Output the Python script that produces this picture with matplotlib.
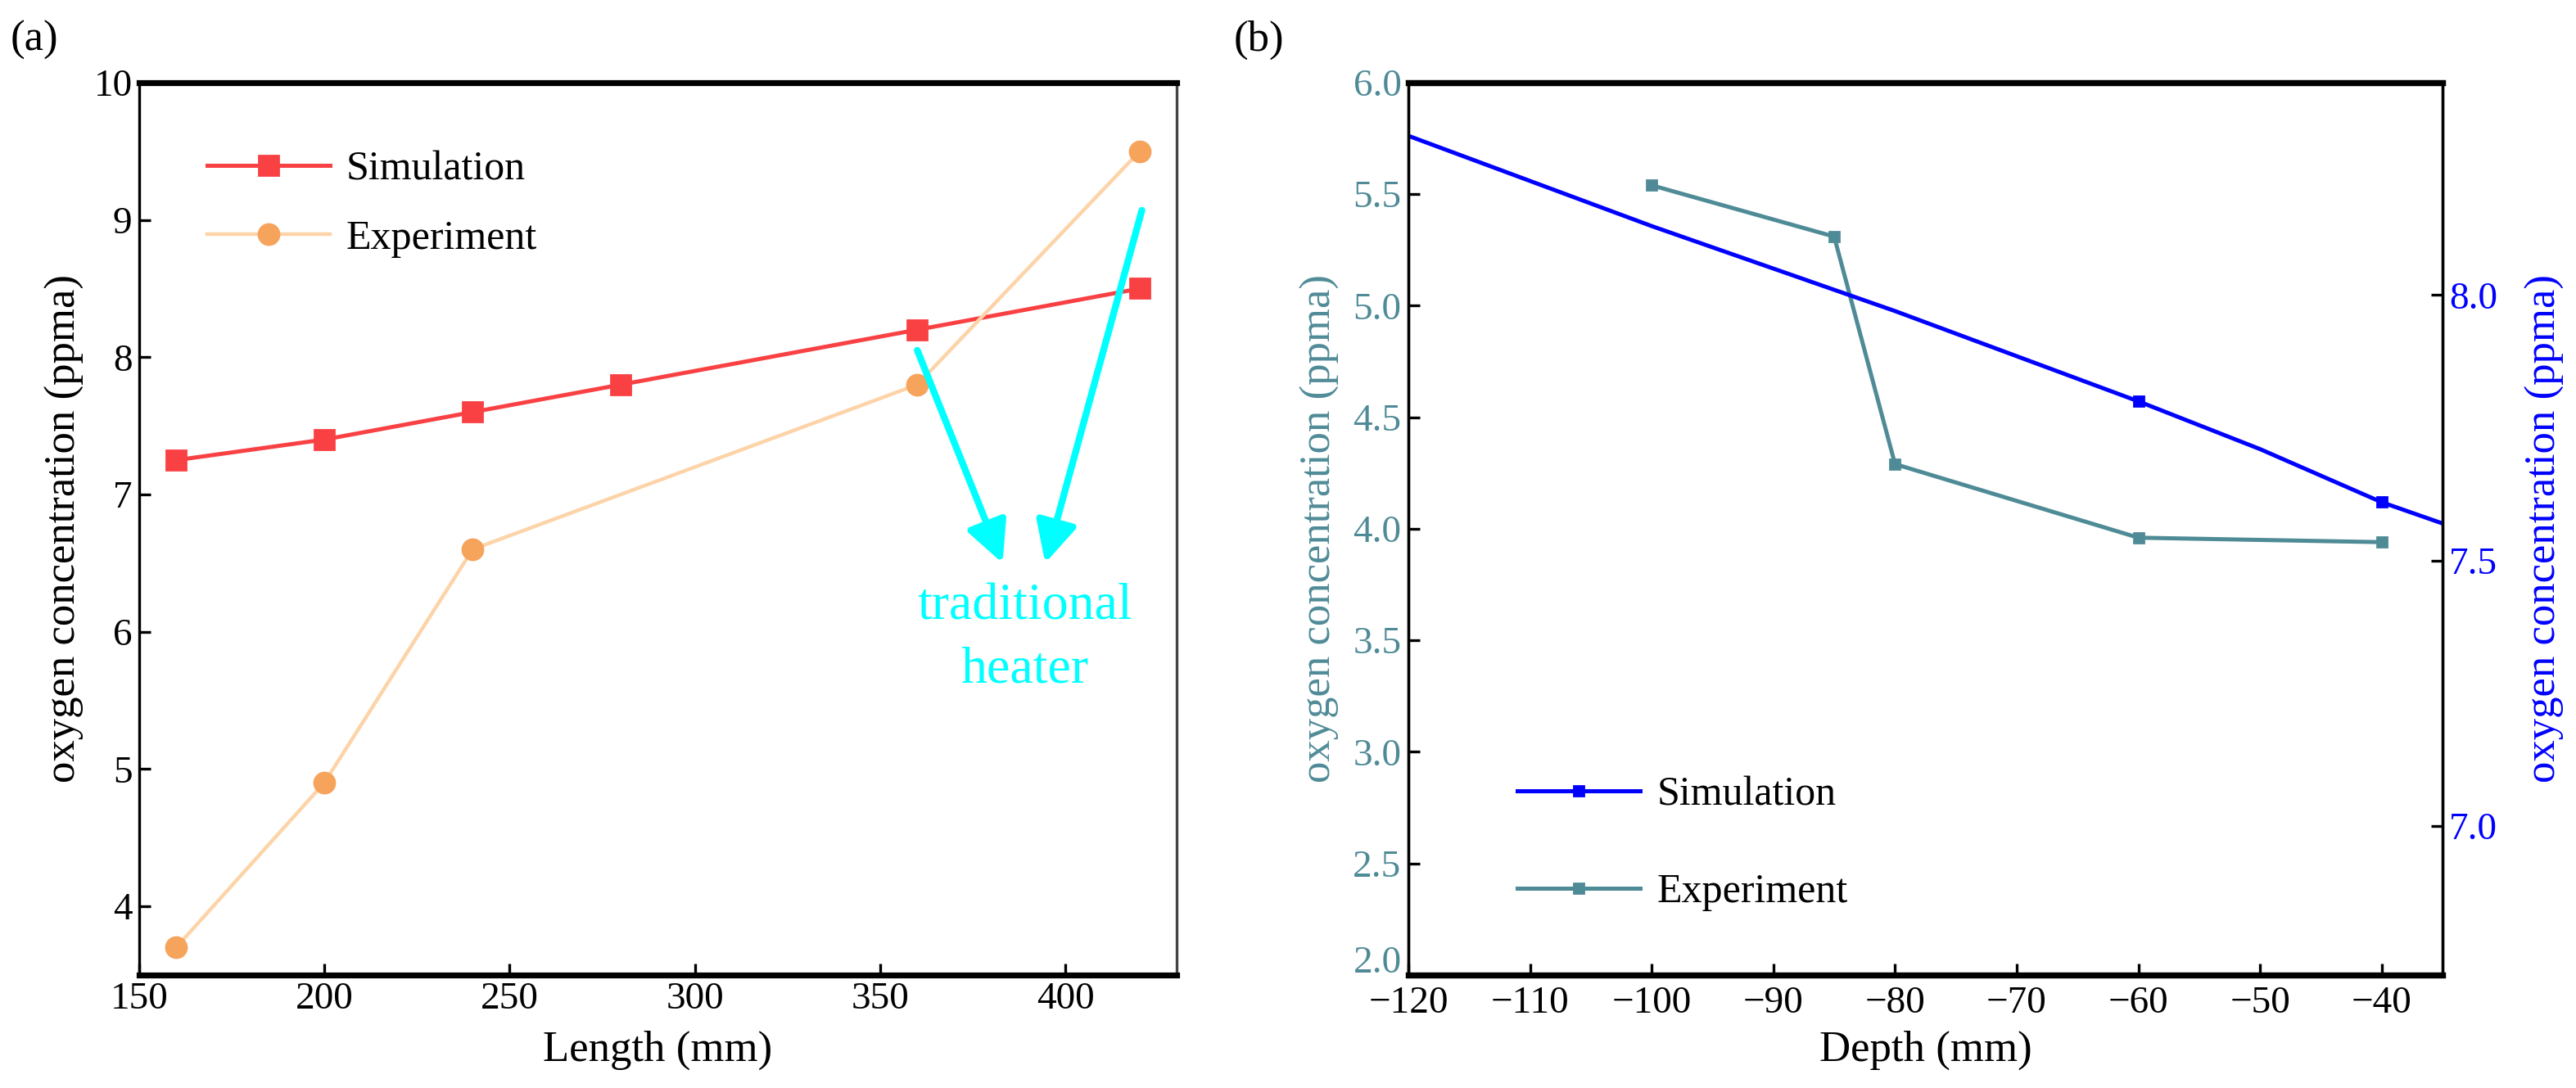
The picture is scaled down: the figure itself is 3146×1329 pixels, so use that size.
import numpy as np
import matplotlib
matplotlib.use("Agg")
import matplotlib.pyplot as plt
import matplotlib.transforms as mtransforms

# panel (a): oxygen vs heater length
length_sim = [160, 200, 240, 280, 360, 420]
oxy_sim_a = [7.25, 7.4, 7.6, 7.8, 8.2, 8.5]
length_exp = [160, 200, 240, 360, 420]
oxy_exp_a = [3.7, 4.9, 6.6, 7.8, 9.5]

# panel (b): oxygen vs depth (experiment on left axis, simulation on right axis)
depth_exp = [-100, -85, -80, -60, -40]
oxy_exp_b = [5.54, 5.31, 4.29, 3.96, 3.94]
depth_sim = [-120, -100, -80, -60, -50, -40, -35]
oxy_sim_b = [8.30, 8.13, 7.97, 7.80, 7.71, 7.61, 7.57]
sim_marked = [3, 5]  # indices with visible markers

xticks_a = [150, 200, 250, 300, 350, 400]
yticks_a = [4, 5, 6, 7, 8, 9, 10]
xticks_b = [-120, -110, -100, -90, -80, -70, -60, -50, -40]
yticks_b_left = [2.0, 2.5, 3.0, 3.5, 4.0, 4.5, 5.0, 5.5, 6.0]
yticks_b_right = [7.0, 7.5, 8.0]

RED = "#f94144"
ORANGE_LINE = "#fdd3a8"
ORANGE_MK = "#f6a35c"
TEAL = "#4f8b97"
BLUE = "#0000ff"
CYAN = "#00ffff"

plt.rcParams["font.family"] = ["Liberation Serif", "DejaVu Serif"]
plt.rcParams["font.size"] = 17

fig = plt.figure(figsize=(15.73, 6.645), dpi=200)


def style_spines(ax, thick=("bottom", "top")):
    for side, sp in ax.spines.items():
        sp.set_linewidth(2.6 if side in thick else 1.2)


# ---------- (a) ----------
ax1 = fig.add_axes([0.054, 0.104, 0.4028, 0.82])
ax1.plot(length_sim, oxy_sim_a, color=RED, lw=1.8, marker="s", ms=8.5,
         label="Simulation")
ax1.plot(length_exp, oxy_exp_a, color=ORANGE_LINE, lw=1.6, marker="o", ms=9,
         mfc=ORANGE_MK, mec=ORANGE_MK, label="Experiment")
ax1.set_xlim(150, 430)
ax1.set_ylim(3.5, 10)
ax1.set_xticks(xticks_a)
ax1.set_yticks(yticks_a)
ax1.tick_params(direction="in", length=5, width=1.2, pad=3, labelsize=17,
                top=False, right=False)
ax1.set_xlabel("Length (mm)", fontsize=19, labelpad=6)
ax1.set_ylabel("oxygen concentration (ppma)", fontsize=19, labelpad=4)
style_spines(ax1)
ax1.spines["right"].set_color("#444444")
ax1.legend(loc="upper left", bbox_to_anchor=(0.03, 0.965), frameon=False,
           handlelength=3.0, labelspacing=0.75, handletextpad=0.4,
           fontsize=18)

ax1.annotate("", xy=(383, 6.5), xytext=(360, 8.05),
             arrowprops=dict(arrowstyle="-|>", color=CYAN, lw=3,
                             mutation_scale=38, shrinkA=0, shrinkB=0))
ax1.annotate("", xy=(394.5, 6.5), xytext=(420.6, 9.07),
             arrowprops=dict(arrowstyle="-|>", color=CYAN, lw=3,
                             mutation_scale=38, shrinkA=0, shrinkB=0))
ax1.text(389, 5.95, "traditional\nheater", color=CYAN, fontsize=23,
         ha="center", va="center", linespacing=1.45)

fig.text(0.004, 0.963, "(a)", fontsize=19, va="center", ha="left")

# ---------- (b) ----------
ax2 = fig.add_axes([0.5467, 0.104, 0.4015, 0.82])
ax3 = ax2.twinx()
h_exp, = ax2.plot(depth_exp, oxy_exp_b, color=TEAL, lw=1.8, marker="s",
                  ms=4.5, label="Experiment")
h_sim, = ax3.plot(depth_sim, oxy_sim_b, color=BLUE, lw=1.8, marker="s",
                  ms=4.5, markevery=sim_marked, label="Simulation")
ax2.set_xlim(-120, -35)
ax2.set_ylim(2.0, 6.0)
ax3.set_ylim(6.72, 8.40)
ax2.set_xticks(xticks_b)
ax2.set_yticks(yticks_b_left)
ax2.set_yticklabels([f"{v:.1f}" for v in yticks_b_left])
ax3.set_yticks(yticks_b_right)
ax3.set_yticklabels([f"{v:.1f}" for v in yticks_b_right])
ax2.tick_params(direction="in", length=5, width=1.2, pad=3, labelsize=17,
                top=False, right=False)
ax2.tick_params(axis="x", pad=5)
ax2.tick_params(axis="y", labelcolor=TEAL)
ax3.tick_params(direction="in", length=5, width=1.2, pad=3, labelsize=17,
                labelcolor=BLUE)
# lift the corner "2.0" a little so it clears the "-120" below it
lowest = ax2.get_yticklabels()[0]
lowest.set_transform(lowest.get_transform() +
                     mtransforms.ScaledTranslation(0, 7 / 72, fig.dpi_scale_trans))
ax2.set_xlabel("Depth (mm)", fontsize=19, labelpad=4)
ax2.set_ylabel("oxygen concentration (ppma)", fontsize=19, color=TEAL,
               labelpad=6)
ax3.set_ylabel("oxygen concentration (ppma)", fontsize=19, color=BLUE,
               labelpad=12)
style_spines(ax2)
style_spines(ax3)
ax3.legend([h_sim, h_exp], ["Simulation", "Experiment"], loc="lower left",
           bbox_to_anchor=(0.07, 0.03), frameon=False, handlelength=3.0,
           labelspacing=1.45, handletextpad=0.4, fontsize=18)

fig.text(0.479, 0.963, "(b)", fontsize=19, va="center", ha="left")

fig.savefig("out.png", dpi=200)
